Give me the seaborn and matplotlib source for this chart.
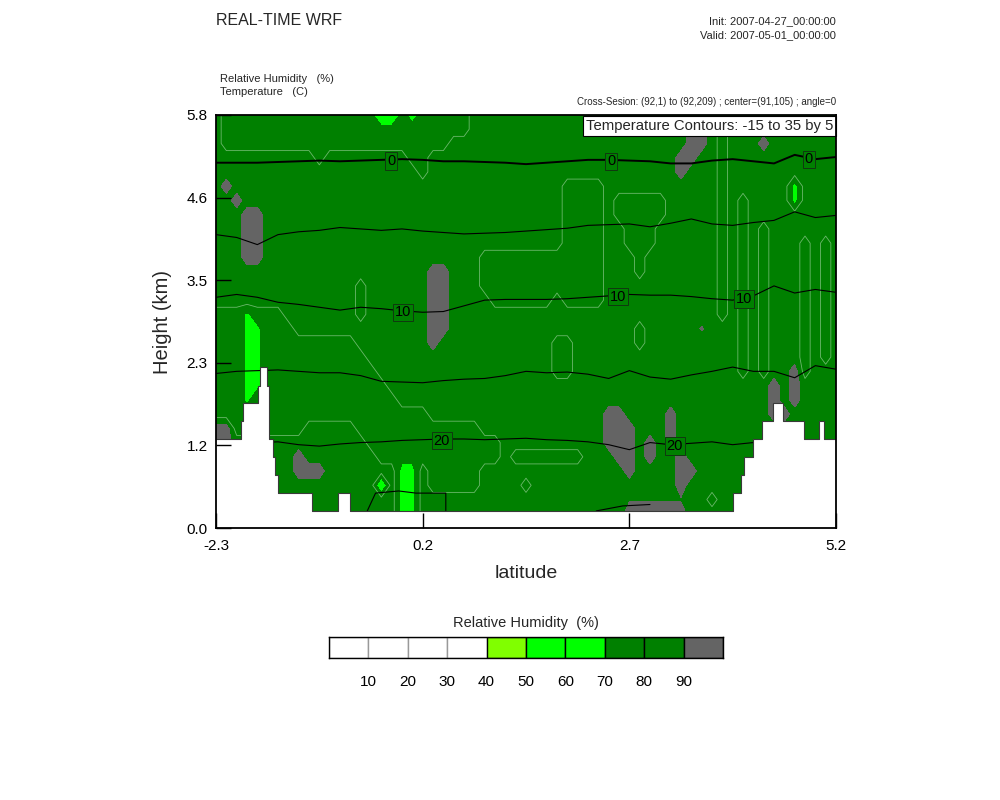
import numpy as np
import pandas as pd
import matplotlib
matplotlib.use("Agg")
import matplotlib.pyplot as plt
import seaborn as sns

# ------------------------------------------------------------------ data
lat_range = (-2.3, 5.2)
height_range = (0.0, 5.8)

# relative-humidity class map
# rows: top (5.8 km) -> bottom (0 km), 0.2 km apart; columns: -2.3 .. 5.2 every 0.125 deg
rh_codes = {'5': 55, 'g': 68, '6': 65, '7': 75, '8': 85, '9': 95, 'x': 89, 'y': 91}
rh_rows = [
    "8777777777" "7777775576" "7777788888" "8888888888" "8888888888" "8888888888" "8",  # 5.8
    "8777777777" "7777777777" "7777788888" "8888888888" "8888889987" "8888888888" "8",  # 5.6
    "8777777777" "7777777777" "7778888888" "8888888888" "8888889987" "8889888888" "8",  # 5.4
    "8888888888" "7888888887" "7888888888" "8888888888" "8888899887" "8888888888" "8",  # 5.2
    "8888888888" "8888888888" "7888888888" "8888888888" "8888898887" "8888888888" "8",  # 5.0
    "8988888888" "8888888888" "8888888888" "8888777788" "8888888887" "8888886888" "8",  # 4.8
    "8898888888" "8888888888" "8888888888" "8888777787" "7777888887" "8788886888" "8",  # 4.6
    "8889988888" "8888888888" "8888888888" "8888777787" "7777888887" "8788888888" "8",  # 4.4
    "8889988888" "8888888888" "8888888888" "8888777788" "7778888887" "8787888888" "8",  # 4.2
    "8889988888" "8888888888" "8888888888" "8888777788" "7778888887" "8787888787" "8",  # 4.0
    "8889988888" "8888888888" "8888887777" "7777777788" "8788888887" "8787888787" "8",  # 3.8
    "8888888888" "8888888888" "8998887777" "7777777788" "8788888887" "8787888787" "8",  # 3.6
    "8888888888" "8888788888" "8998887777" "7777777788" "8888888887" "8787888787" "8",  # 3.4
    "8888888888" "8888788888" "8998888777" "7778777788" "8888888887" "8787888787" "8",  # 3.2
    "777g777888" "8888788888" "8998888888" "8888888888" "8888888887" "8787888787" "8",  # 3.0
    "777gg77788" "8888888888" "8998888888" "8888888888" "8788888y88" "8787888787" "8",  # 2.8
    "777gg77777" "7777888888" "8988888888" "8887788888" "8788888888" "8787888787" "8",  # 2.6
    "777gg77777" "7777788888" "8888888888" "8887788888" "8888888888" "8787888787" "8",  # 2.4
    "777gg77777" "7777778888" "8888888888" "8887788888" "8888888888" "8787889788" "8",  # 2.2
    "777gg77777" "7777777888" "8888888888" "8888888888" "8888888888" "8888989888" "8",  # 2.0
    "777g777777" "7777777788" "8888888888" "8888888888" "8888888888" "8888989888" "8",  # 1.8
    "7777777777" "7777777777" "7888888888" "8888888899" "8888988888" "8888998888" "8",  # 1.6
    "9977777778" "8888777777" "7777778888" "8888888899" "9888988888" "8888888888" "8",  # 1.4
    "9988888888" "8888877777" "7777777788" "8888888899" "9898988888" "8888888888" "8",  # 1.2
    "8888888898" "8888887777" "7777777787" "7777778889" "9898898888" "8888888888" "8",  # 1.0
    "8888888899" "9888888866" "8777778888" "8888888888" "9888899888" "8888888888" "8",  # 0.8
    "8888888888" "8888885866" "8777778888" "7888888888" "8888898888" "8888888888" "8",  # 0.6
    "8888888888" "8888888866" "8888888888" "8888888888" "xxxxxx8878" "8888888888" "8",  # 0.4
    "8888888888" "8888888866" "8888888888" "8888888888" "9999998888" "8888888888" "8",  # 0.2
    "8888888888" "8888888866" "8888888888" "8888888888" "9999998888" "8888888888" "8",  # 0.0
]

rh_levels = [0, 10, 20, 30, 40, 50, 60, 70, 80, 90, 100]
rh_colors = ['#ffffff', '#ffffff', '#ffffff', '#ffffff', '#80ff00',
             '#00ff00', '#00ff00', '#008000', '#008000', '#646464']
cbar_tick_labels = ['10', '20', '30', '40', '50', '60', '70', '80', '90']

# temperature isotherm heights (km) at latitudes -2.3 .. 5.2 every 0.25
iso_heights = {
    0: [5.13, 5.13, 5.13, 5.14, 5.15, 5.16, 5.15, 5.16, 5.17, 5.18, 5.17, 5.15, 5.15, 5.14, 5.13, 5.11,
        5.13, 5.15, 5.17, 5.17, 5.16, 5.15, 5.12, 5.12, 5.16, 5.18, 5.15, 5.12, 5.24, 5.18, 5.21],
    5: [4.12, 4.08, 3.98, 4.12, 4.16, 4.18, 4.22, 4.20, 4.18, 4.20, 4.17, 4.15, 4.13, 4.14, 4.15, 4.17,
        4.19, 4.21, 4.25, 4.26, 4.27, 4.23, 4.28, 4.34, 4.27, 4.25, 4.29, 4.32, 4.44, 4.36, 4.39],
    10: [3.24, 3.28, 3.24, 3.17, 3.14, 3.10, 3.06, 3.10, 3.08, 3.05, 3.03, 3.04, 3.12, 3.20, 3.21, 3.21,
         3.21, 3.22, 3.24, 3.26, 3.28, 3.27, 3.27, 3.25, 3.22, 3.20, 3.26, 3.40, 3.30, 3.35, 3.31],
    15: [2.17, 2.20, 2.21, 2.22, 2.20, 2.18, 2.18, 2.14, 2.06, 2.05, 2.04, 2.07, 2.09, 2.10, 2.14, 2.20,
         2.18, 2.19, 2.16, 2.10, 2.21, 2.12, 2.09, 2.15, 2.20, 2.26, 2.20, 2.20, 2.11, 2.28, 2.23],
    20: [1.20, 1.20, 1.20, 1.21, 1.17, 1.15, 1.18, 1.20, 1.21, 1.23, 1.24, 1.25, 1.25, 1.24, 1.25, 1.26,
         1.24, 1.23, 1.21, 1.17, 1.10, 1.20, 1.17, 1.19, 1.21, 1.17, 1.20, 1.20, 1.20, 1.20, 1.20],
}
iso25_segments = [
    ([-0.47, -0.37, -0.09, 0.12, 0.48, 0.48], [0.24, 0.49, 0.52, 0.49, 0.49, 0.24]),
    ([2.30, 2.62, 2.95], [0.24, 0.31, 0.33]),
]
contour_labels = [(0, -0.18), (0, 2.48), (0, 4.87),
                  (10, -0.04), (10, 2.56), (10, 4.09),
                  (20, 0.43), (20, 3.25)]

# terrain (step outline, km)
terrain_lat = [-2.30, -2.00, -1.97, -1.79, -1.77, -1.68, -1.66, -1.61, -1.59, -1.55, -1.14, -0.82,
               -0.68, 3.95, 4.05, 4.09, 4.20, 4.31, 4.44, 4.56, 4.81, 4.99, 5.06, 5.20]
terrain_h = [1.25, 1.50, 1.75, 2.00, 2.26, 2.00, 1.25, 1.00, 0.74, 0.49, 0.24, 0.49,
             0.24, 0.49, 0.74, 1.00, 1.25, 1.50, 1.75, 1.50, 1.25, 1.50, 1.25, 1.25]

x_tick_labels = ['-2.3', '0.2', '2.7', '5.2']
y_tick_labels = ['0.0', '1.2', '2.3', '3.5', '4.6', '5.8']

# ------------------------------------------------------------------ plot
sns.set_theme(style="white")
plt.rcParams['font.family'] = ['Liberation Sans', 'DejaVu Sans']

fig = plt.figure(figsize=(10, 8), dpi=100)
ax = fig.add_axes([0.216, 0.34, 0.62, 0.51625])

ncols = len(rh_rows[0])
assert all(len(r) == ncols for r in rh_rows)
lat_grid = np.linspace(lat_range[0], lat_range[1], ncols)
z_grid = np.linspace(height_range[0], height_range[1], len(rh_rows))
rh = np.array([[rh_codes[c] for c in row] for row in rh_rows[::-1]], dtype=float)

ax.contourf(lat_grid, z_grid, rh, levels=rh_levels, colors=rh_colors, zorder=1)
ax.contour(lat_grid, z_grid, rh, levels=[80], colors='#6cb86c', linewidths=0.6, zorder=2)

iso_lat = np.linspace(lat_range[0], lat_range[1], len(iso_heights[0]))
for lev, h in iso_heights.items():
    df = pd.DataFrame({'lat': iso_lat, 'h': h})
    sns.lineplot(data=df, x='lat', y='h', ax=ax, color='black',
                 linewidth=1.4 if lev == 0 else 0.8, estimator=None, sort=False, zorder=3)
for seg_lat, seg_h in iso25_segments:
    df = pd.DataFrame({'lat': seg_lat, 'h': seg_h})
    sns.lineplot(data=df, x='lat', y='h', ax=ax, color='black', linewidth=0.8,
                 estimator=None, sort=False, zorder=3)

ax.fill_between(terrain_lat, terrain_h, 0, step='post', color='white', linewidth=0, zorder=4)
ax.step(terrain_lat, terrain_h, where='post', color='#3a3a3a', linewidth=0.8, zorder=4)

for lev, lat_pos in contour_labels:
    y = np.interp(lat_pos, iso_lat, iso_heights[lev])
    ax.text(lat_pos, y, str(lev), ha='center', va='center_baseline', fontsize=10.5, zorder=6,
            color='black',
            bbox=dict(boxstyle='square,pad=0.12', fc='#008000', ec='#103810', lw=0.7))

ax.text(0.9952, 0.9734, 'Temperature Contours: -15 to 35 by 5', transform=ax.transAxes,
        ha='right', va='center', fontsize=10.7, zorder=7,
        bbox=dict(boxstyle='square,pad=0.2', fc='white', ec='black', lw=0.8))

ax.set_xlim(*lat_range)
ax.set_ylim(*height_range)
ax.set_xlabel('')
ax.set_ylabel('')
ax.set_xticks(np.linspace(lat_range[0], lat_range[1], len(x_tick_labels)))
ax.set_xticklabels(x_tick_labels)
ax.set_yticks(np.linspace(height_range[0], height_range[1], len(y_tick_labels)))
ax.set_yticklabels(y_tick_labels)
ax.tick_params(direction='in', length=10.5, width=1.0, color='black', labelcolor='black',
               labelsize=11, bottom=True, left=True, top=False, right=False)
ax.tick_params(axis='x', pad=8)
ax.tick_params(axis='y', pad=6)
for s in ax.spines.values():
    s.set_visible(True)
    s.set_color('black')
    s.set_linewidth(1.3)
    s.set_zorder(10)
ax.xaxis.set_zorder(10)
ax.yaxis.set_zorder(10)

fig.text(0.163, 1 - 322 / 800, 'Height (km)', rotation=90, ha='center', va='center', fontsize=14.5)
fig.text(0.526, 1 - 573 / 800, 'latitude', ha='center', va='center', fontsize=14)

fig.text(0.216, 1 - 25 / 800, 'REAL-TIME WRF', fontsize=11.5, va='baseline')
fig.text(0.836, 1 - 24 / 800, 'Init: 2007-04-27_00:00:00', ha='right', va='baseline', fontsize=8)
fig.text(0.836, 1 - 38 / 800, 'Valid: 2007-05-01_00:00:00', ha='right', va='baseline', fontsize=8)
fig.text(0.220, 1 - 82 / 800, 'Relative Humidity   (%)', va='baseline', fontsize=8)
fig.text(0.220, 1 - 95 / 800, 'Temperature   (C)', va='baseline', fontsize=8)
fig.text(0.836, 1 - 105 / 800, 'Cross-Sesion: (92,1) to (92,209) ; center=(91,105) ; angle=0',
         ha='right', va='baseline', fontsize=7)

# label bar
cax = fig.add_axes([0.329, 0.1775, 0.394, 0.02625])
edgecols = ['#999999'] * 4 + ['black'] * 6
cax.bar(np.arange(len(rh_colors)), np.ones(len(rh_colors)), width=1, align='edge',
        color=rh_colors, edgecolor=edgecols, linewidth=1.0)
cax.set_xlim(0, len(rh_colors))
cax.set_ylim(0, 1)
cax.set_xticks(np.arange(1, len(rh_colors)))
cax.set_xticklabels(cbar_tick_labels)
cax.set_yticks([])
cax.tick_params(axis='x', length=0, pad=12, labelsize=11, labelcolor='black')
for s in cax.spines.values():
    s.set_visible(True)
    s.set_color('black')
    s.set_linewidth(1.0)
fig.text(0.526, 1 - 623 / 800, 'Relative Humidity  (%)', ha='center', va='center', fontsize=10.5)

fig.savefig('out.png', dpi=100)
